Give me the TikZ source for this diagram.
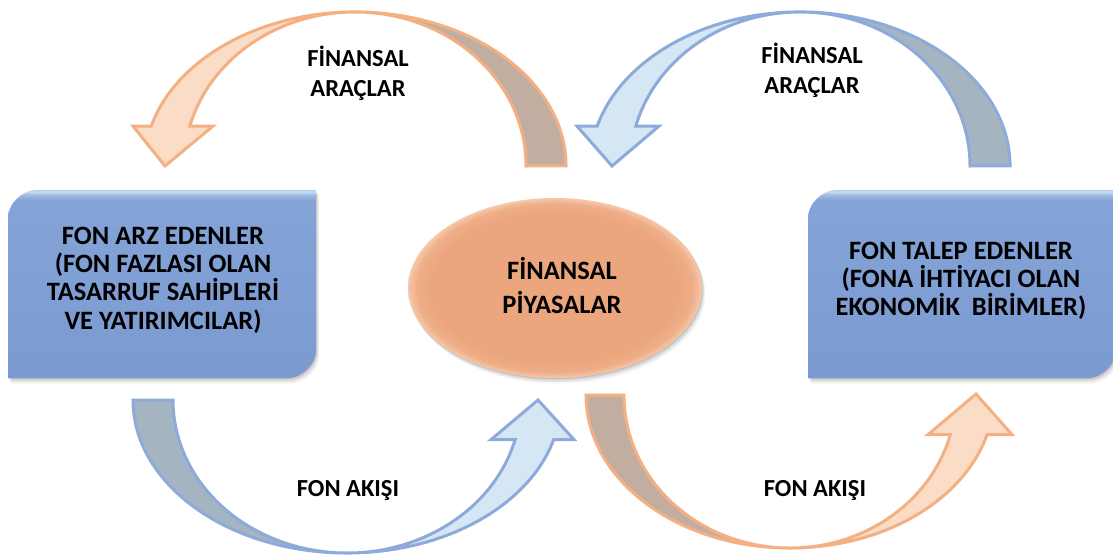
\documentclass[tikz,border=0pt]{standalone}
\usepackage{fontspec}
\setmainfont{Carlito}
\usetikzlibrary{shapes.geometric}
\definecolor{boxbot}{HTML}{7B9AD0}
\definecolor{boxmid}{HTML}{84A3D7}
\definecolor{boxhi}{HTML}{9CB9E4}
\definecolor{boxhi2}{HTML}{C6DEF5}
\definecolor{boxedge}{HTML}{B5CCEB}
\definecolor{ellin}{HTML}{ECA67D}
\definecolor{ellmid}{HTML}{EEAE88}
\definecolor{ellrim}{HTML}{F6C8A9}
\definecolor{orLight}{HTML}{FADCC7}
\definecolor{orDark}{HTML}{C1AEA1}
\definecolor{orLine}{HTML}{F4B083}
\definecolor{blLight}{HTML}{D5E6F5}
\definecolor{blDark}{HTML}{A4B4C0}
\definecolor{blLine}{HTML}{8EAADB}
\pgfdeclareverticalshading{boxshade}{100bp}{color(0bp)=(boxbot); color(25bp)=(boxbot); color(72.3bp)=(boxmid); color(73.6bp)=(boxhi); color(74.6bp)=(boxhi2); color(75bp)=(boxedge); color(100bp)=(boxedge)}
\pgfdeclareradialshading{ellshade}{\pgfpoint{0bp}{0bp}}{color(0bp)=(ellin); color(21bp)=(ellin); color(23.5bp)=(ellmid); color(25bp)=(ellrim); color(50bp)=(ellrim)}
\tikzset{
  diagbox/.style n args={4}{insert path={(#1,#4) -- (#1,#2+28) .. controls (#1,#2+12.5) and (#1+15.5,#2) .. (#1+28,#2) -- (#3,#2) -- (#3,#4-28) .. controls (#3,#4-12.5) and (#3-15.5,#4) .. (#3-28,#4) -- cycle}},
  boxtext/.style={align=center, font=\bfseries\fontsize{26.5}{28.3}\selectfont, text=black},
  midtext/.style={align=center, font=\bfseries\fontsize{26.5}{34}\selectfont, text=black},
  lbltext/.style={align=center, font=\bfseries\fontsize{24.5}{30}\selectfont, text=black},
  arrline/.style={line width=3, line join=miter}
}
\begin{document}
\begin{tikzpicture}[x=1pt,y=-1pt]
\useasboundingbox (0,0) rectangle (1113,559);
% ---------- top-left arrow (orange) ----------
\fill[orLight] (133,126.1) -- (151.2,126.1) arc[start angle=195,end angle=270,x radius=211,y radius=154] arc[start angle=270,end angle=195,x radius=171,y radius=154] -- (213,126.1) -- (165,166) -- cycle;
\fill[orDark] (355,12) arc[start angle=270,end angle=360,x radius=211,y radius=154] -- (526,166) arc[start angle=360,end angle=270,x radius=171,y radius=154] -- cycle;
\draw[arrline, orLine] (133,126.1) -- (151.2,126.1) arc[start angle=195,end angle=360,x radius=211,y radius=154] -- (526,166) arc[start angle=360,end angle=195,x radius=171,y radius=154] -- (213,126.1) -- (165,166) -- cycle;
% ---------- top-right arrow (blue) ----------
\fill[blLight] (577,126.1) -- (597.2,126.1) arc[start angle=195,end angle=270,x radius=210,y radius=154] arc[start angle=270,end angle=195,x radius=170,y radius=154] -- (659,126.1) -- (612,166) -- cycle;
\fill[blDark] (800,12) arc[start angle=270,end angle=360,x radius=210,y radius=154] -- (970,166) arc[start angle=360,end angle=270,x radius=170,y radius=154] -- cycle;
\draw[arrline, blLine] (577,126.1) -- (597.2,126.1) arc[start angle=195,end angle=360,x radius=210,y radius=154] -- (970,166) arc[start angle=360,end angle=195,x radius=170,y radius=154] -- (659,126.1) -- (612,166) -- cycle;
% ---------- bottom-left arrow (blue) ----------
\fill[blDark] (133,400) arc[start angle=180,end angle=90,x radius=214,y radius=153] arc[start angle=90,end angle=180,x radius=174,y radius=153] -- cycle;
\fill[blLight] (347,553) arc[start angle=90,end angle=15,x radius=214,y radius=153] -- (574,439.6) -- (538,400) -- (491,439.6) -- (515.1,439.6) arc[start angle=15,end angle=90,x radius=174,y radius=153] -- cycle;
\draw[arrline, blLine] (133,400) arc[start angle=180,end angle=15,x radius=214,y radius=153] -- (574,439.6) -- (538,400) -- (491,439.6) -- (515.1,439.6) arc[start angle=15,end angle=180,x radius=174,y radius=153] -- cycle;
% ---------- bottom-right arrow (orange) ----------
\fill[orDark] (586,395) arc[start angle=180,end angle=90,x radius=204,y radius=153] arc[start angle=90,end angle=180,x radius=166,y radius=153] -- cycle;
\fill[orLight] (790,548) arc[start angle=90,end angle=15,x radius=204,y radius=153] -- (1012,434.6) -- (976,394) -- (928,434.6) -- (950.3,434.6) arc[start angle=15,end angle=90,x radius=166,y radius=153] -- cycle;
\draw[arrline, orLine] (586,395) arc[start angle=180,end angle=15,x radius=204,y radius=153] -- (1012,434.6) -- (976,394) -- (928,434.6) -- (950.3,434.6) arc[start angle=15,end angle=180,x radius=166,y radius=153] -- cycle;
% ---------- shadows ----------
\foreach \s/\o in {1/0.10,2.5/0.08,4/0.06,5.5/0.04}{
  \fill[black,opacity=\o,xshift=0.6*\s pt,yshift=-\s pt, diagbox={8}{190}{316}{378}];
  \fill[black,opacity=\o,xshift=0.6*\s pt,yshift=-\s pt, diagbox={808}{190}{1116}{378}];
  \fill[black,opacity=\o,xshift=0.6*\s pt,yshift=-\s pt] (555,288) ellipse [x radius=147, y radius=90];
}
% ---------- boxes and ellipse ----------
\shade[shading=boxshade, diagbox={8}{190}{316}{378}];
\shade[shading=boxshade, diagbox={808}{190}{1116}{378}];
\shade[shading=ellshade] (555,288) ellipse [x radius=147, y radius=90];
% ---------- texts ----------
\node[boxtext] (arz) at (163,280) {FON ARZ EDENLER\\(FON FAZLASI OLAN\\TASARRUF SAHİPLERİ\\VE YATIRIMCILAR)};
\node[boxtext] (talep) at (961,281) {FON TALEP EDENLER\\(FONA İHTİYACI OLAN\\EKONOMİK\ \ BİRİMLER)};
\node[midtext] (piyasa) at (562,286) {FİNANSAL\\PİYASALAR};
\node[lbltext] (araclar1) at (358,73) {FİNANSAL\\ARAÇLAR};
\node[lbltext] (araclar2) at (812,70) {FİNANSAL\\ARAÇLAR};
\node[lbltext] (akis1) at (348,491) {FON AKIŞI};
\node[lbltext] (akis2) at (815,491) {FON AKIŞI};
\end{tikzpicture}
\end{document}
